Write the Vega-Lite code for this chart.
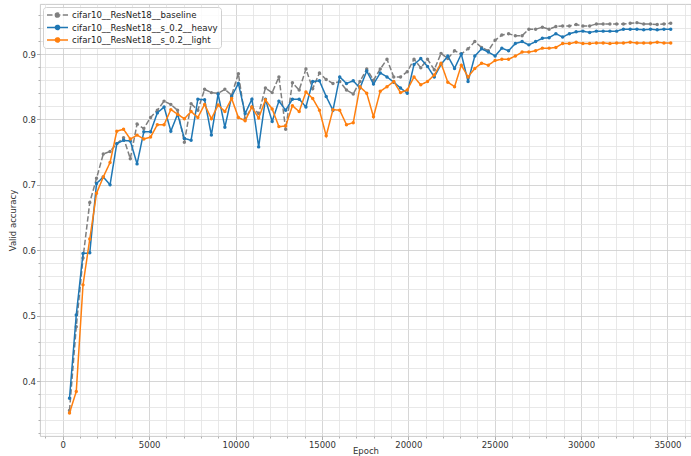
{
  "$schema": "https://vega.github.io/schema/vega-lite/v6.json",
  "width": 651,
  "height": 432,
  "autosize": {"type": "none"},
  "padding": {"left": 40, "top": 4, "right": 0, "bottom": 20},
  "background": "white",
  "config": {
    "view": {"stroke": "#c4c4c4", "strokeWidth": 0.9},
    "font": "DejaVu Sans",
    "axis": {
      "domain": false,
      "labelFont": "DejaVu Sans",
      "labelFontSize": 8.5,
      "labelColor": "#333333",
      "titleFont": "DejaVu Sans",
      "titleFontSize": 8.5,
      "titleFontWeight": "normal",
      "titleColor": "#333333",
      "tickColor": "#b0b0b0",
      "gridWidth": 0.8,
      "labelOverlap": false
    }
  },
  "data": {"values": [
    {"step":391,"baseline":0.355,"heavy":0.3735,"light":0.351},
    {"step":782,"baseline":0.483,"heavy":0.501,"light":0.384},
    {"step":1173,"baseline":0.588,"heavy":0.595,"light":0.547},
    {"step":1564,"baseline":0.673,"heavy":0.596,"light":0.617},
    {"step":1955,"baseline":0.710,"heavy":0.702,"light":0.687},
    {"step":2346,"baseline":0.747,"heavy":0.712,"light":0.712},
    {"step":2737,"baseline":0.751,"heavy":0.700,"light":0.734},
    {"step":3128,"baseline":0.763,"heavy":0.763,"light":0.782},
    {"step":3519,"baseline":0.772,"heavy":0.768,"light":0.785},
    {"step":3910,"baseline":0.740,"heavy":0.767,"light":0.770},
    {"step":4301,"baseline":0.793,"heavy":0.732,"light":0.776},
    {"step":4692,"baseline":0.786,"heavy":0.781,"light":0.770},
    {"step":5083,"baseline":0.803,"heavy":0.781,"light":0.773},
    {"step":5474,"baseline":0.814,"heavy":0.810,"light":0.792},
    {"step":5865,"baseline":0.828,"heavy":0.819,"light":0.792},
    {"step":6256,"baseline":0.823,"heavy":0.782,"light":0.815},
    {"step":6647,"baseline":0.814,"heavy":0.808,"light":0.808},
    {"step":7038,"baseline":0.765,"heavy":0.771,"light":0.801},
    {"step":7429,"baseline":0.824,"heavy":0.768,"light":0.812},
    {"step":7820,"baseline":0.814,"heavy":0.831,"light":0.803},
    {"step":8211,"baseline":0.846,"heavy":0.830,"light":0.823},
    {"step":8602,"baseline":0.841,"heavy":0.776,"light":0.801},
    {"step":8993,"baseline":0.840,"heavy":0.839,"light":0.822},
    {"step":9384,"baseline":0.846,"heavy":0.788,"light":0.812},
    {"step":9775,"baseline":0.837,"heavy":0.835,"light":0.832},
    {"step":10166,"baseline":0.870,"heavy":0.855,"light":0.803},
    {"step":10557,"baseline":0.801,"heavy":0.809,"light":0.798},
    {"step":10948,"baseline":0.819,"heavy":0.831,"light":0.819},
    {"step":11339,"baseline":0.809,"heavy":0.758,"light":0.802},
    {"step":11730,"baseline":0.848,"heavy":0.831,"light":0.830},
    {"step":12121,"baseline":0.841,"heavy":0.797,"light":0.816},
    {"step":12512,"baseline":0.865,"heavy":0.828,"light":0.789},
    {"step":12903,"baseline":0.785,"heavy":0.814,"light":0.790},
    {"step":13294,"baseline":0.856,"heavy":0.831,"light":0.821},
    {"step":13685,"baseline":0.845,"heavy":0.831,"light":0.812},
    {"step":14076,"baseline":0.877,"heavy":0.819,"light":0.842},
    {"step":14467,"baseline":0.847,"heavy":0.858,"light":0.832},
    {"step":14858,"baseline":0.871,"heavy":0.859,"light":0.814},
    {"step":15249,"baseline":0.861,"heavy":0.835,"light":0.775},
    {"step":15640,"baseline":0.855,"heavy":0.814,"light":0.815},
    {"step":16031,"baseline":0.858,"heavy":0.865,"light":0.814},
    {"step":16422,"baseline":0.845,"heavy":0.855,"light":0.792},
    {"step":16813,"baseline":0.839,"heavy":0.859,"light":0.795},
    {"step":17204,"baseline":0.858,"heavy":0.848,"light":0.850},
    {"step":17595,"baseline":0.877,"heavy":0.874,"light":0.840},
    {"step":17986,"baseline":0.860,"heavy":0.854,"light":0.804},
    {"step":18377,"baseline":0.877,"heavy":0.871,"light":0.843},
    {"step":18768,"baseline":0.892,"heavy":0.865,"light":0.850},
    {"step":19159,"baseline":0.865,"heavy":0.857,"light":0.858},
    {"step":19550,"baseline":0.865,"heavy":0.848,"light":0.841},
    {"step":19941,"baseline":0.873,"heavy":0.840,"light":0.845},
    {"step":20332,"baseline":0.892,"heavy":0.884,"light":0.865},
    {"step":20723,"baseline":0.879,"heavy":0.893,"light":0.853},
    {"step":21114,"baseline":0.892,"heavy":0.881,"light":0.858},
    {"step":21505,"baseline":0.876,"heavy":0.865,"light":0.868},
    {"step":21896,"baseline":0.901,"heavy":0.884,"light":0.886},
    {"step":22287,"baseline":0.893,"heavy":0.897,"light":0.857},
    {"step":22678,"baseline":0.905,"heavy":0.878,"light":0.850},
    {"step":23069,"baseline":0.900,"heavy":0.900,"light":0.883},
    {"step":23460,"baseline":0.908,"heavy":0.858,"light":0.865},
    {"step":23851,"baseline":0.919,"heavy":0.897,"light":0.878},
    {"step":24242,"baseline":0.910,"heavy":0.908,"light":0.886},
    {"step":24633,"baseline":0.905,"heavy":0.903,"light":0.883},
    {"step":25024,"baseline":0.921,"heavy":0.897,"light":0.890},
    {"step":25415,"baseline":0.929,"heavy":0.909,"light":0.892},
    {"step":25806,"baseline":0.931,"heavy":0.905,"light":0.892},
    {"step":26197,"baseline":0.928,"heavy":0.916,"light":0.897},
    {"step":26588,"baseline":0.928,"heavy":0.919,"light":0.903},
    {"step":26979,"baseline":0.938,"heavy":0.914,"light":0.903},
    {"step":27370,"baseline":0.938,"heavy":0.919,"light":0.905},
    {"step":27761,"baseline":0.941,"heavy":0.924,"light":0.909},
    {"step":28152,"baseline":0.938,"heavy":0.925,"light":0.909},
    {"step":28543,"baseline":0.942,"heavy":0.931,"light":0.910},
    {"step":28934,"baseline":0.943,"heavy":0.926,"light":0.916},
    {"step":29325,"baseline":0.943,"heavy":0.931,"light":0.916},
    {"step":29716,"baseline":0.945,"heavy":0.934,"light":0.918},
    {"step":30107,"baseline":0.943,"heavy":0.935,"light":0.916},
    {"step":30498,"baseline":0.943,"heavy":0.933,"light":0.916},
    {"step":30889,"baseline":0.946,"heavy":0.935,"light":0.917},
    {"step":31280,"baseline":0.946,"heavy":0.935,"light":0.917},
    {"step":31671,"baseline":0.946,"heavy":0.935,"light":0.916},
    {"step":32062,"baseline":0.946,"heavy":0.935,"light":0.917},
    {"step":32453,"baseline":0.946,"heavy":0.938,"light":0.917},
    {"step":32844,"baseline":0.947,"heavy":0.938,"light":0.918},
    {"step":33235,"baseline":0.948,"heavy":0.938,"light":0.917},
    {"step":33626,"baseline":0.946,"heavy":0.937,"light":0.917},
    {"step":34017,"baseline":0.946,"heavy":0.938,"light":0.917},
    {"step":34408,"baseline":0.945,"heavy":0.937,"light":0.918},
    {"step":34799,"baseline":0.946,"heavy":0.938,"light":0.917},
    {"step":35190,"baseline":0.947,"heavy":0.938,"light":0.917}
  ]},
  "encoding": {
    "x": {
      "field": "step", "type": "quantitative", "title": "Epoch",
      "scale": {"domain": [-1317, 36364], "nice": false, "zero": false},
      "axis": {
        "values": [-1000,0,1000,2000,3000,4000,5000,6000,7000,8000,9000,10000,11000,12000,13000,14000,15000,16000,17000,18000,19000,20000,21000,22000,23000,24000,25000,26000,27000,28000,29000,30000,31000,32000,33000,34000,35000,36000],
        "tickCount": 200,
        "labelExpr": "datum.value % 5000 === 0 ? format(datum.value, 'd') : ''",
        "gridColor": {"condition": {"test": "datum.value % 5000 === 0", "value": "#cbcbcb"}, "value": "#e2e2e2"},
        "tickSize": {"condition": {"test": "datum.value % 5000 === 0", "value": 3.5}, "value": 2},
        "labelOverlap": false,
        "labelPadding": 0.5,
        "titlePadding": -2.5,
        "labelFlush": false
      }
    }
  },
  "layer": [
    {
      "mark": {"type": "line", "strokeWidth": 1.5, "point": {"filled": true, "size": 12}},
      "encoding": {
        "y": {
          "field": "baseline", "type": "quantitative", "title": "Valid accuracy",
          "scale": {"domain": [0.3159, 0.9765], "nice": false, "zero": false},
          "axis": {
            "values": [0.32,0.34,0.36,0.38,0.4,0.42,0.44,0.46,0.48,0.5,0.52,0.54,0.56,0.58,0.6,0.62,0.64,0.66,0.68,0.7,0.72,0.74,0.76,0.78,0.8,0.82,0.84,0.86,0.88,0.9,0.92,0.94,0.96],
            "tickCount": 200,
            "labelExpr": "abs(datum.value*10 - round(datum.value*10)) < 0.000001 ? format(datum.value, '.1f') : ''",
            "gridColor": {"condition": {"test": "abs(datum.value*10 - round(datum.value*10)) < 0.000001", "value": "#cbcbcb"}, "value": "#e2e2e2"},
            "tickSize": {"condition": {"test": "abs(datum.value*10 - round(datum.value*10)) < 0.000001", "value": 3.5}, "value": 2},
            "labelOverlap": false,
            "labelPadding": 1,
            "titlePadding": 4
          }
        },
        "color": {
          "datum": "cifar10__ResNet18__baseline", "type": "nominal",
          "scale": {"domain": ["cifar10__ResNet18__baseline", "cifar10__ResNet18__s_0.2__heavy", "cifar10__ResNet18__s_0.2__light"], "range": ["#7f7f7f", "#1f77b4", "#ff7f0e"]},
          "legend": {
            "title": null, "orient": "top-left", "offset": 3, "padding": 3,
            "strokeColor": "#d0d0d0", "fillColor": "rgba(255,255,255,0.8)", "cornerRadius": 3,
            "labelFont": "DejaVu Sans", "labelFontSize": 8.6, "labelColor": "#222222",
            "symbolType": "M-1,0H1M-0.2,0A0.2,0.2 0 1,0 0.2,0A0.2,0.2 0 1,0 -0.2,0",
            "symbolSize": 441, "symbolStrokeWidth": 1.5, "rowPadding": 2.5, "labelOffset": 3,
            "clipHeight": 10,
            "encode": {"symbols": {"update": {"fill": {"scale": "color", "field": "value"}}}}
          }
        },
        "strokeDash": {
          "datum": "cifar10__ResNet18__baseline", "type": "nominal",
          "scale": {"domain": ["cifar10__ResNet18__baseline", "cifar10__ResNet18__s_0.2__heavy", "cifar10__ResNet18__s_0.2__light"], "range": [[5.5, 2.4], [1, 0], [1, 0]]},
          "legend": {"title": null}
        }
      }
    },
    {
      "mark": {"type": "line", "strokeWidth": 1.5, "point": {"filled": true, "size": 12}},
      "encoding": {
        "y": {"field": "heavy", "type": "quantitative", "title": "Valid accuracy"},
        "color": {"datum": "cifar10__ResNet18__s_0.2__heavy", "type": "nominal"},
        "strokeDash": {"datum": "cifar10__ResNet18__s_0.2__heavy", "type": "nominal"}
      }
    },
    {
      "mark": {"type": "line", "strokeWidth": 1.5, "point": {"filled": true, "size": 12}},
      "encoding": {
        "y": {"field": "light", "type": "quantitative", "title": "Valid accuracy"},
        "color": {"datum": "cifar10__ResNet18__s_0.2__light", "type": "nominal"},
        "strokeDash": {"datum": "cifar10__ResNet18__s_0.2__light", "type": "nominal"}
      }
    }
  ]
}
